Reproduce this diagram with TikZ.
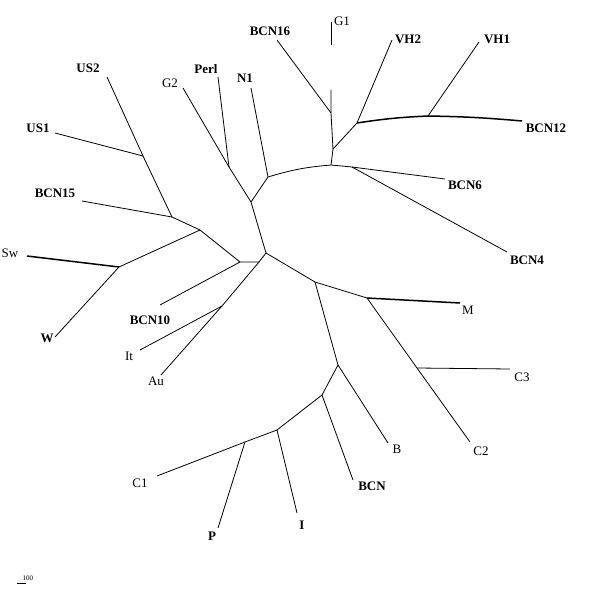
\documentclass[tikz,border=0pt]{standalone}
\usepackage{fontspec}
\setmainfont{Liberation Serif}

\tikzset{
  br/.style={line width=0.8pt},
  tbr/.style={line width=1.5pt},
  lab/.style={inner sep=0pt,font=\fontsize{13}{13}\selectfont},
  blab/.style={inner sep=0pt,font=\fontsize{13}{13}\selectfont\bfseries}
}

\begin{document}
\begin{tikzpicture}[x=1pt,y=-1pt]
\useasboundingbox (0,0) rectangle (600,594);

\coordinate (c) at (266,253);
\coordinate (nA) at (251,202);
\coordinate (nGP) at (229,167);
\coordinate (nN1) at (268,177);
\coordinate (nTop) at (331,165);
\coordinate (nK) at (333,149);
\coordinate (nL) at (331,113);
\coordinate (nVH) at (357,123);
\coordinate (nVH1) at (428,116);
\coordinate (nB46) at (352,167);
\coordinate (nD) at (259,262);
\coordinate (nLeft) at (240,262);
\coordinate (nSwA) at (200,230);
\coordinate (nSwW) at (119,267);
\coordinate (nB15) at (172,217);
\coordinate (nUS) at (143,156);
\coordinate (nItAu) at (222,306);
\coordinate (nE) at (315,282);
\coordinate (nF) at (367,298);
\coordinate (nC3) at (417,368);
\coordinate (nG) at (338,365);
\coordinate (nH) at (322,395);
\coordinate (nI) at (277,430);
\coordinate (nJ) at (245,442);
\coordinate (g1a) at (331,90);
\coordinate (g1b) at (331,45);

\coordinate (tG1) at (331,22);
\coordinate (tBCN16) at (277,40);
\coordinate (tVH2) at (392,40);
\coordinate (tVH1) at (479,42);
\coordinate (tBCN12) at (522,121);
\coordinate (tBCN6) at (445,179);
\coordinate (tBCN4) at (507,252);
\coordinate (tN1) at (251,88);
\coordinate (tPerl) at (218,77);
\coordinate (tG2) at (183,88);
\coordinate (tUS2) at (107,77);
\coordinate (tUS1) at (55,133);
\coordinate (tBCN15) at (82,201);
\coordinate (tSw) at (27,256);
\coordinate (tW) at (55,337);
\coordinate (tBCN10) at (160,305);
\coordinate (tIt) at (140,350);
\coordinate (tAu) at (161,375);
\coordinate (tM) at (460,303);
\coordinate (tC3) at (510,369);
\coordinate (tC2) at (470,442);
\coordinate (tB) at (388,443);
\coordinate (tBCN) at (353,480);
\coordinate (tI) at (297,513);
\coordinate (tP) at (218,528);
\coordinate (tC1) at (157,476);

\node[lab] (G1) at (342,21) {G1};
\node[blab] (BCN16) at (270,31) {BCN16};
\node[blab] (VH2) at (408,39) {VH2};
\node[blab] (VH1) at (497,39) {VH1};
\node[blab] (BCN12) at (546,128) {BCN12};
\node[blab] (BCN6) at (465,185) {BCN6};
\node[blab] (BCN4) at (527,260) {BCN4};
\node[blab] (N1) at (245,78) {N1};
\node[blab] (Perl) at (206,69) {Perl};
\node[lab] (G2) at (170,83) {G2};
\node[blab] (US2) at (88,68) {US2};
\node[blab] (US1) at (38,128) {US1};
\node[blab] (BCN15) at (55,193) {BCN15};
\node[lab] (Sw) at (10,253) {Sw};
\node[blab] (W) at (47,338) {W};
\node[blab] (BCN10) at (150,320) {BCN10};
\node[lab] (It) at (129,356) {It};
\node[lab] (Au) at (156,381) {Au};
\node[lab] (M) at (468,310) {M};
\node[lab] (C3) at (522,377) {C3};
\node[lab] (C2) at (481,451) {C2};
\node[lab] (B) at (397,449) {B};
\node[blab] (BCN) at (372,486) {BCN};
\node[blab] (I) at (302,525) {I};
\node[blab] (P) at (212,536) {P};
\node[lab] (C1) at (140,483) {C1};

\draw[br] (c) -- (nA) -- (nGP) -- (tG2);
\draw[br] (nGP) -- (tPerl);
\draw[br] (nA) -- (nN1) -- (tN1);
\draw[br] (nN1) to[bend left=6] (nTop);
\draw[br] (nTop) -- (nK) -- (nL) -- (g1a);
\draw[br] (g1b) -- (tG1);
\draw[br] (nL) -- (tBCN16);
\draw[br] (nK) -- (nVH) -- (tVH2);
\draw[tbr] (nVH) to[bend left=3] (nVH1) to[bend left=2] (tBCN12);
\draw[br] (nVH1) -- (tVH1);
\draw[br] (nTop) -- (nB46) -- (tBCN6);
\draw[br] (nB46) -- (tBCN4);

\draw[br] (c) -- (nD) -- (nLeft) -- (nSwA) -- (nB15) -- (nUS) -- (tUS2);
\draw[br] (nUS) -- (tUS1);
\draw[br] (nB15) -- (tBCN15);
\draw[br] (nSwA) -- (nSwW) -- (tW);
\draw[tbr] (nSwW) -- (tSw);
\draw[br] (nLeft) -- (tBCN10);
\draw[br] (nD) -- (nItAu) -- (tIt);
\draw[br] (nItAu) -- (tAu);

\draw[br] (c) -- (nE) -- (nF) -- (nC3) -- (tC2);
\draw[tbr] (nF) -- (tM);
\draw[br] (nC3) -- (tC3);
\draw[br] (nE) -- (nG) -- (tB);
\draw[br] (nG) -- (nH) -- (tBCN);
\draw[br] (nH) -- (nI) -- (tI);
\draw[br] (nI) -- (nJ) -- (tP);
\draw[br] (nJ) -- (tC1);

\coordinate (s1) at (17,583);
\coordinate (s2) at (26,583);
\draw[br] (s1) -- (s2);
\node[inner sep=0pt,font=\fontsize{7}{7}\selectfont] (scale) at (28,578) {100};
\end{tikzpicture}
\end{document}
